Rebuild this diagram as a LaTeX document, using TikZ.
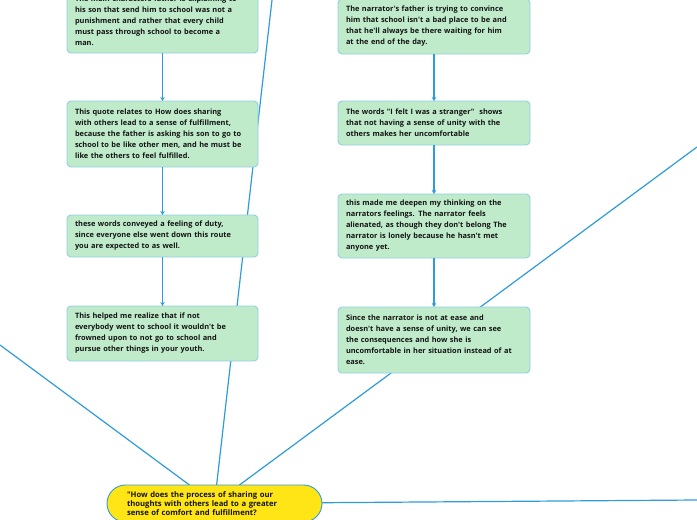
\documentclass[tikz,border=0pt]{standalone}
\usepackage{fontspec}
\setmainfont{Open Sans}[Ligatures=TeXOff]
\usetikzlibrary{arrows.meta,backgrounds}
\definecolor{boxfill}{HTML}{C0EBCB}
\definecolor{boxline}{HTML}{8ECFE6}
\definecolor{linkblue}{HTML}{2E9BDB}
\definecolor{rootfill}{HTML}{FFE516}
\definecolor{txt}{HTML}{141414}
\begin{document}
\begin{tikzpicture}[x=1pt,y=-1pt,
  note/.style={draw=boxline,line width=0.9pt,fill=boxfill,rounded corners=4pt,
    anchor=north west,minimum width=191pt,text width=175pt,inner xsep=8pt,inner ysep=0pt,
    align=left,outer sep=0pt,text=txt,font=\fontsize{7.4}{11}\selectfont\bfseries},
  rootbox/.style={draw=linkblue,line width=0.9pt,fill=rootfill,rounded corners=18.5pt,
    minimum width=215pt,minimum height=37pt,text width=175pt,inner xsep=20pt,inner ysep=0pt,
    align=left,outer sep=0pt,text=txt,font=\fontsize{7.7}{8.7}\selectfont\bfseries},
  link/.style={draw=linkblue,line width=1.2pt},
  flow/.style={draw=linkblue,line width=1.2pt,-{Stealth[length=4pt,width=4.5pt]}}]
\useasboundingbox (0,0) rectangle (697,520);
\clip (0,0) rectangle (697,520);
\node[note,minimum height=65pt] (l1) at (67,-12) {The main characters father is explaining to\\his son that send him to school was not a\\punishment and rather that every child\\must pass through school to become a\\man.};
\node[note,minimum height=66pt] (l2) at (67,101) {This quote relates to How does sharing\\with others lead to a sense of fulfillment,\\because the father is asking his son to go to\\school to be like other men, and he must be\\like the others to feel fulfilled.};
\node[note,minimum height=42pt] (l3) at (67,215) {these words conveyed a feeling of duty,\\since everyone else went down this route\\you are expected to as well.};
\node[note,minimum height=55pt] (l4) at (67,306) {This helped me realize that if not\\everybody went to school it wouldn't be\\frowned upon to not go to school and\\pursue other things in your youth.};
\node[note,minimum width=192pt,text width=176pt,minimum height=55pt] (r1) at (338,-1) {The narrator's father is trying to convince\\him that school isn't a bad place to be and\\that he'll always be there waiting for him\\at the end of the day.};
\node[note,minimum width=192pt,text width=176pt,minimum height=44pt] (r2) at (338,101) {The words "I felt I was a stranger"~ shows\\that not having a sense of unity with the\\others makes her uncomfortable};
\node[note,minimum width=192pt,text width=176pt,minimum height=64pt] (r3) at (338,194) {this made me deepen my thinking on the\\narrators feelings. The narrator feels\\alienated, as though they don't belong The\\narrator is lonely because he hasn't met\\anyone yet.};
\node[note,minimum width=192pt,text width=176pt,minimum height=66pt] (r4) at (338,307) {Since the narrator is not at ease and\\doesn't have a sense of unity, we can see\\the consequences and how she is\\uncomfortable in her situation instead of at\\ease.};
\node[rootbox] (root) at (214.5,503.5) {"How does the process of sharing our\\thoughts with others lead to a greater\\sense of comfort and fulfillment?};
\coordinate (offL) at (0,345);
\coordinate (offT) at (272,0);
\coordinate (offR) at (697,147);
\coordinate (offE) at (697,500);
\begin{scope}[on background layer]
\draw[link] (root) -- (offL);
\draw[link] (root) -- (offT);
\draw[link] (root) -- (offR);
\draw[link] (root) -- (offE);
\end{scope}
\draw[flow] (l1) -- (l2);
\draw[flow] (l2) -- (l3);
\draw[flow] (l3) -- (l4);
\draw[flow] (r1) -- (r2);
\draw[flow] (r2) -- (r3);
\draw[flow] (r3) -- (r4);
\end{tikzpicture}
\end{document}
